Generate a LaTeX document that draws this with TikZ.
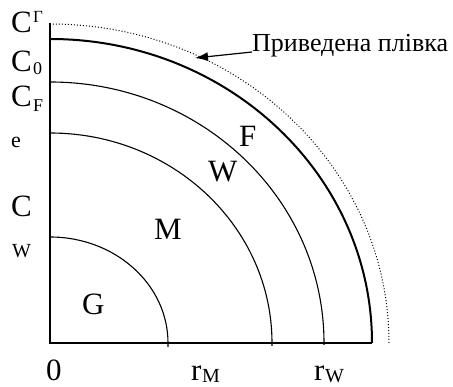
\documentclass[tikz,border=0pt]{standalone}
\usepackage{fontspec}
\setmainfont{Liberation Serif}
\usetikzlibrary{calc,arrows.meta}
\begin{document}
\begin{tikzpicture}[x=1pt,y=1pt,
  lbl/.style={inner sep=0pt,anchor=base west,font=\fontsize{31}{33}\selectfont},
  sub/.style={inner sep=0pt,anchor=base west,font=\fontsize{18}{20}\selectfont},
  note/.style={inner sep=0pt,anchor=base west,font=\fontsize{26}{28}\selectfont},
  arcline/.style={line width=1.1pt},
  axis/.style={line width=1.3pt}]
\useasboundingbox (0,0) rectangle (453,387);
\coordinate (O) at (50,44);
\coordinate (top) at (50,364);
\coordinate (right) at (372,44);
\draw[axis] (top) -- (O) -- (right);
% arcs
\draw[arcline] ($(O)+(118,-4)$) -- ++(0,4) arc[start angle=0,end angle=90,x radius=118,y radius=106];
\draw[arcline] ($(O)+(222,-3)$) -- ++(0,3) arc[start angle=0,end angle=90,x radius=222,y radius=210];
\draw[arcline] ($(O)+(274,-2)$) -- ++(0,2) arc[start angle=0,end angle=90,x radius=274,y radius=261];
\draw[line width=2pt] ($(O)+(322,0)$) arc[start angle=0,end angle=90,x radius=322,y radius=304];
\draw[dotted,line width=1pt] ($(O)+(339,0)$) arc[start angle=0,end angle=90,x radius=339,y radius=319];
% labels on the vertical axis
\node[lbl] (cg) at (11,354) {C};
\node[inner sep=0pt,anchor=base west,font=\fontsize{17}{19}\selectfont] (cgs) at (33,364) {Г};
\node[lbl] (c0) at (11,315) {C};
\node[sub] (c0s) at (33,312) {0};
\node[lbl] (cf) at (11,280) {C};
\node[sub] (cfs) at (33,275) {F};
\node[inner sep=0pt,anchor=base west,font=\fontsize{22}{24}\selectfont] (e) at (11,239) {e};
\node[lbl] (cw) at (11,170) {C};
\node[inner sep=0pt,anchor=base west,font=\fontsize{20}{22}\selectfont] (w) at (12,129) {W};
% region labels
\node[lbl] (G) at (82,72) {G};
\node[lbl] (M) at (154,147) {M};
\node[lbl] (W) at (208,205) {W};
\node[lbl] (F) at (239,240) {F};
% horizontal axis labels
\node[lbl] (zero) at (46,6) {0};
\node[lbl] (rm) at (191,6) {r};
\node[inner sep=0pt,anchor=base west,font=\fontsize{20}{22}\selectfont] (rms) at (202,4) {M};
\node[lbl] (rw) at (314,6) {r};
\node[inner sep=0pt,anchor=base west,font=\fontsize{20}{22}\selectfont] (rws) at (325,4) {W};
% annotation
\node[note] (film) at (252,335) {Приведена плівка};
\coordinate (tip) at (195,329);
\draw[line width=1.2pt,-{Latex[length=13pt,width=9pt]}] (film.base west) -- (tip);
\end{tikzpicture}
\end{document}
